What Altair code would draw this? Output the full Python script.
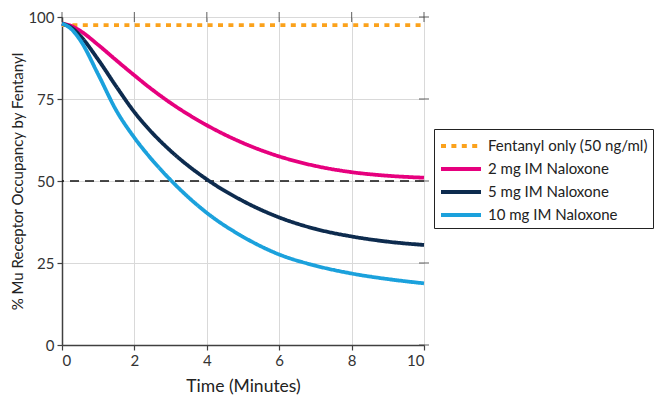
import altair as alt
import pandas as pd

series_names = ["Fentanyl only (50 ng/ml)", "2 mg IM Naloxone", "5 mg IM Naloxone", "10 mg IM Naloxone"]
series_colors = ["#FBA21C", "#E6007E", "#0D2B4E", "#1BA1DC"]

time = [0, 0.25, 0.5, 1, 1.5, 2, 2.5, 3, 4, 5, 6, 7, 8, 9, 10]
fentanyl = [97.5] * len(time)
nal_2mg = [98, 97.3, 95.8, 91.5, 86.8, 82.2, 77.8, 73.8, 67, 61.6, 57.5, 54.6, 52.7, 51.6, 51.0]
nal_5mg = [98, 96.8, 94.3, 87, 78.8, 71, 64.6, 59.2, 50.5, 43.9, 38.9, 35.4, 33.1, 31.5, 30.5]
nal_10mg = [98, 96.4, 93, 82.5, 71.5, 63.2, 56.3, 50.3, 40.3, 33.0, 27.6, 24.2, 21.8, 20.1, 18.8]

x_ticks = [0, 2, 4, 6, 8, 10]
y_ticks = [0, 25, 50, 75, 100]
threshold = 50

rows = []
for name, vals in zip(series_names, [fentanyl, nal_2mg, nal_5mg, nal_10mg]):
    for t, v in zip(time, vals):
        rows.append({"series": name, "t": t, "v": v})
df = pd.DataFrame(rows)

FONT = "Lato"
AX = "#404040"

x_scale = alt.Scale(domain=[0, 10], nice=False)
y_scale = alt.Scale(domain=[0, 100], nice=False)

lines = alt.Chart(df).mark_line(strokeWidth=3.8, interpolate="monotone", strokeCap="butt").encode(
    x=alt.X("t:Q", scale=x_scale,
            axis=alt.Axis(values=x_ticks, title="Time (Minutes)", grid=True, gridColor="#d9d9d9",
                          domainColor=AX, domainWidth=1.5, tickColor=AX, tickWidth=1.2, tickSize=5,
                          labelFontSize=15, titleFontSize=17.5, titleFontWeight="normal",
                          labelColor="#333", titleColor="#222", labelPadding=3, titlePadding=9)),
    y=alt.Y("v:Q", scale=y_scale,
            axis=alt.Axis(values=y_ticks, title="% Mu Receptor Occupancy by Fentanyl", grid=True,
                          gridColor="#d9d9d9", domainColor=AX, domainWidth=1.5, tickColor=AX,
                          tickWidth=1.2, tickSize=5, labelFontSize=15, titleFontSize=15,
                          titleFontWeight="normal", labelColor="#333", titleColor="#222",
                          labelPadding=3, titlePadding=2)),
    color=alt.Color("series:N", scale=alt.Scale(domain=series_names, range=series_colors),
                    sort=series_names,
                    legend=alt.Legend(title=None, orient="none", legendX=372, legendY=112,
                                      symbolType="M-1,0H3", symbolStrokeWidth=4, symbolSize=400,
                                      labelFontSize=15, labelColor="#222", strokeColor="#222",
                                      padding=5, rowPadding=3, labelOffset=25, labelLimit=300)),
    strokeDash=alt.StrokeDash("series:N", sort=series_names,
                              scale=alt.Scale(domain=series_names, range=[[5, 5.4], [1, 0], [1, 0], [1, 0]]),
                              legend=None),
    order=alt.Order("t:Q"),
)

thr = pd.DataFrame({"y": [threshold]})
rule = alt.Chart(thr).mark_rule(color="#111", strokeWidth=1.5, strokeDash=[9, 6]).encode(y=alt.Y("y:Q", scale=y_scale))

top_ticks = alt.Chart(pd.DataFrame({"x": x_ticks})).mark_tick(
    orient="vertical", color=AX, thickness=1.2, size=10
).encode(x=alt.X("x:Q", scale=x_scale), y=alt.datum(100, scale=y_scale))

right_ticks = alt.Chart(pd.DataFrame({"y": y_ticks})).mark_tick(
    orient="horizontal", color=AX, thickness=1.2, size=10
).encode(y=alt.Y("y:Q", scale=y_scale), x=alt.datum(10, scale=x_scale))

chart = alt.layer(rule, lines, top_ticks, right_ticks).properties(
    width=362, height=328, padding={"left": 2, "top": 2, "right": 0, "bottom": 0}
).configure_view(stroke=AX, strokeWidth=1.5).configure(font=FONT)

chart.save("out.html", embed_options={"renderer": "svg", "actions": False})
